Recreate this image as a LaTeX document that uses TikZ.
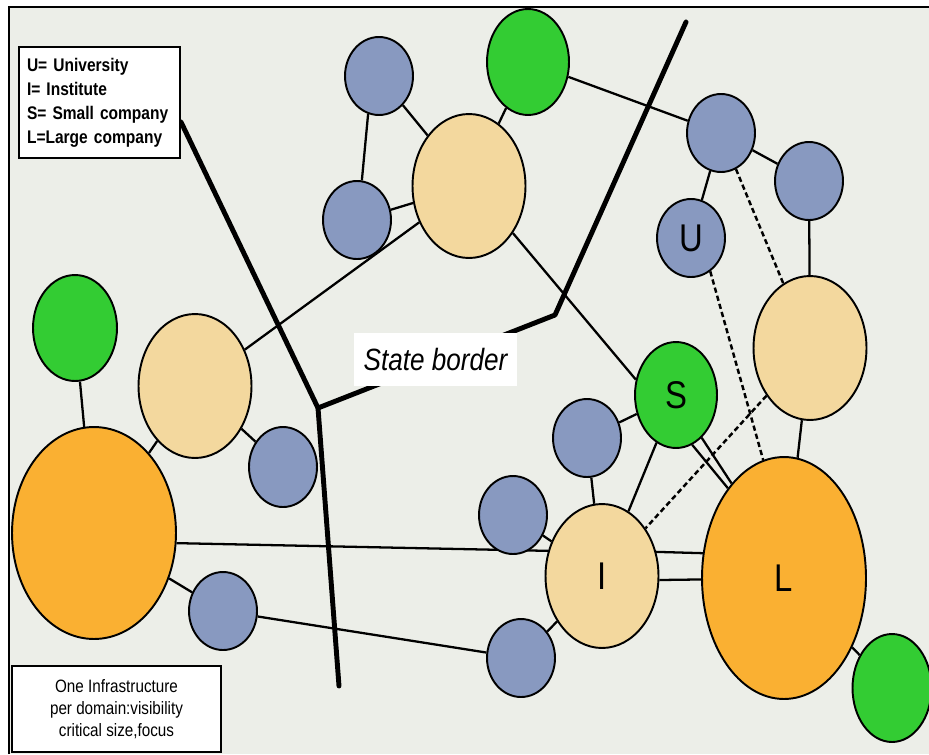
\documentclass[tikz,border=0pt]{standalone}
\usepackage{fontspec}
\setmainfont{Liberation Sans}
\newfontfamily\narrowfont{Liberation Sans}[FakeStretch=0.85]
\usetikzlibrary{shapes.geometric}
\definecolor{bgc}{RGB}{236,238,232}
\definecolor{nblue}{RGB}{136,153,192}
\definecolor{ntan}{RGB}{243,216,158}
\definecolor{norange}{RGB}{250,176,50}
\definecolor{ngreen}{RGB}{51,204,51}
\pgfdeclarelayer{back}
\pgfdeclarelayer{edges}
\pgfsetlayers{back,edges,main}
\tikzset{
  org/.style={ellipse, draw=black, line width=1.1pt, inner sep=0pt,
    font=\narrowfont\fontsize{22}{22}\selectfont},
  bluenode/.style={org, fill=nblue, minimum width=1.36cm, minimum height=1.56cm},
  tannode/.style={org, fill=ntan, minimum width=2.26cm, minimum height=2.88cm},
  greennode/.style={org, fill=ngreen, minimum width=1.64cm, minimum height=2.12cm},
  bigorange/.style={org, fill=norange, minimum width=3.28cm},
  link/.style={draw=black, line width=1.3pt},
  dlink/.style={draw=black, line width=1.4pt, dash pattern=on 3pt off 1.8pt},
  border/.style={draw=black, line width=2.8pt, line join=round, line cap=round},
  infobox/.style={draw=black, line width=1pt, fill=white}
}
\begin{document}
\begin{tikzpicture}[x=0.02cm, y=-0.02cm]
\useasboundingbox (0,0) rectangle (929,754);
\begin{pgfonlayer}{back}
  \fill[white] (0,0) rectangle (929,754);
  \fill[bgc] (9,7) rectangle (929,754);
  \draw[line width=1.6pt] (9,754) -- (9,7) -- (929,7);
\end{pgfonlayer}

% nodes
\node[bluenode] (b1) at (379,76) {};
\node[bluenode] (b2) at (357,220) {};
\node[tannode] (t1) at (469,186) {};
\node[greennode] (g1) at (528,62) {};
\node[bluenode] (b3) at (721,133) {};
\node[bluenode] (b4) at (809,181) {};
\node[bluenode] (u) at (691,238) {U};
\node[tannode] (t2) at (810,348) {};
\node[greennode] (s) at (676,395) {S};
\node[bluenode] (b5) at (587,438) {};
\node[tannode] (i) at (602,576) {I};
\node[bigorange, minimum height=4.84cm] (l) at (784,578) {L};
\node[greennode, minimum width=1.58cm, minimum height=2.16cm] (g2) at (892,688) {};
\node[bluenode] (b6) at (513,515) {};
\node[bluenode] (b7) at (521,658) {};
\node[bluenode] (b8) at (223,611) {};
\node[bigorange, minimum height=4.24cm] (l2) at (94,533) {};
\node[greennode, minimum width=1.68cm] (g3) at (75,328) {};
\node[tannode] (t3) at (195,386) {};
\node[bluenode, minimum height=1.6cm] (b9) at (283,467) {};

% state border points
\coordinate (sb1) at (181,122);
\coordinate (sb2) at (318,408);
\coordinate (sb3) at (339,686);
\coordinate (sb4) at (555,315);
\coordinate (sb5) at (686,22);

\begin{pgfonlayer}{edges}
  \path[link] (b1.-106) -- (b2.83);
  \path[link] (b1) -- (t1);
  \path[link] (b2) -- (t1);
  \path[link] (t1) -- (g1);
  \path[link] (g1) -- (b3);
  \path[link] (t1) -- (t3);
  \path[link] (t1.-47) -- (s.159);
  \path[link] (b3) -- (u);
  \path[link] (b3) -- (b4);
  \path[link] (b4) -- (t2);
  \path[link] (t2) -- (l);
  \path[dlink] (b3) -- (t2);
  \path[dlink] (u.-60) -- (l.100);
  \path[dlink] (t2) -- (i);
  \path[link] (s.-72) -- (l.122);
  \path[link] (s.-59) -- (l.119);
  \path[link] (s) -- (b5);
  \path[link] (s) -- (i);
  \path[link] (b5) -- (i);
  \path[link] (b6) -- (i);
  \path[link] (i.24) -- (l.163);
  \path[link] (i.-4) -- (l.181);
  \path[link] (l2.-7) -- (i.155);
  \path[link] (l) -- (g2);
  \path[link] (b7) -- (i);
  \path[link] (b8) -- (b7);
  \path[link] (l2) -- (b8);
  \path[link] (l2) -- (t3);
  \path[link] (l2) -- (g3);
  \path[link] (t3) -- (b9);
  % state border
  \path[border] (sb1) -- (sb2) -- (sb3);
  \path[border] (sb2) -- (sb4) -- (sb5);
\end{pgfonlayer}

% labels
\node[infobox, text width=2.9cm, inner xsep=0.16cm, inner ysep=0pt,
      minimum height=2.22cm, align=left,
      font=\narrowfont\bfseries\fontsize{10.4}{13.6}\selectfont] (legend) at (99.5,102.5)
  {U=~University\\I=~Institute\\S=~Small company\\L=Large company};
\node[infobox, minimum width=4.18cm, minimum height=1.72cm, inner sep=0pt, align=center,
      font=\narrowfont\fontsize{10.2}{12.5}\selectfont] (note) at (116.5,709)
  {One Infrastructure\\per domain:visibility\\critical size,focus};
\node[fill=white, minimum width=3.26cm, minimum height=1.06cm, inner sep=0pt,
      font=\narrowfont\itshape\fontsize{17.5}{20}\selectfont] (sblabel) at (435.5,359.5)
  {State border};
\end{tikzpicture}
\end{document}
